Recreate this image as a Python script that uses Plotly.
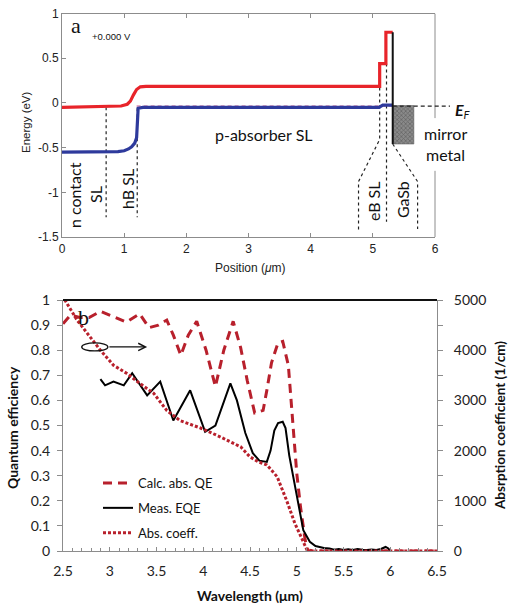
import plotly.graph_objects as go

# ---------------- Panel a: band diagram ----------------
cb_pos = [0, 0.7, 0.95, 1.05, 1.1, 1.15, 1.2, 1.26, 1.35, 5.11, 5.11, 5.21, 5.21, 5.32]
cb_E = [-0.05, -0.045, -0.035, -0.015, 0.02, 0.09, 0.15, 0.18, 0.185, 0.185, 0.44, 0.44, 0.79, 0.79]

vb_pos = [0, 0.7, 0.9, 1.0, 1.07, 1.12, 1.17, 1.2, 1.215, 1.225, 1.3, 5.1, 5.16, 5.32]
vb_E = [-0.55, -0.55, -0.545, -0.535, -0.515, -0.49, -0.45, -0.39, -0.25, -0.06, -0.05, -0.05, -0.025, -0.025]

qf_pos = [1.2, 5.32]
qf_E = [-0.035, -0.035]

edge_pos = [5.32, 5.32]
edge_E = [0.79, -0.46]

metal_pos = [5.32, 5.66, 5.66, 5.32, 5.32]
metal_E = [-0.03, -0.03, -0.46, -0.46, -0.03]

guide_pos = [
    [0.71, 0.71],
    [1.21, 1.21],
    [5.11, 5.11, 4.77, 4.77],
    [5.22, 5.22],
    [5.32, 5.72, 5.72],
]
guide_E = [
    [-0.05, -1.28],
    [-0.06, -1.28],
    [0.44, -0.41, -0.88, -1.42],
    [0.44, -1.33],
    [-0.46, -0.88, -1.41],
]

pos_ticks = [0, 1, 2, 3, 4, 5, 6]
energy_ticks = [-1.5, -1, -0.5, 0, 0.5, 1]
energy_ticktext = ["-1.5", "-1", "-0.5", "0", "0.5", "1"]

region_labels = ["n contact", "SL", "hB SL", "eB SL", "GaSb"]
region_pos = [0.21, 0.53, 1.05, 5.0, 5.48]
region_E = [-1.03, -1.02, -0.96, -1.1, -1.08]

# ---------------- Panel b: QE / absorption ----------------
calc_wl = [2.5, 2.58, 2.68, 2.78, 2.9, 3.04, 3.18, 3.32, 3.42, 3.52, 3.61, 3.68, 3.76, 3.84, 3.93,
           4.03, 4.13, 4.22, 4.32, 4.4, 4.47, 4.55, 4.64, 4.68, 4.73, 4.8, 4.85, 4.91, 4.95, 4.98,
           5.0, 5.04, 5.09, 5.12, 6.5]
calc_qe = [0.905, 0.94, 0.93, 0.93, 0.955, 0.935, 0.912, 0.945, 0.89, 0.9, 0.92, 0.86, 0.78, 0.86, 0.915,
           0.8, 0.655, 0.8, 0.915, 0.81, 0.68, 0.55, 0.56, 0.64, 0.75, 0.83, 0.835, 0.74, 0.55, 0.44,
           0.31, 0.176, 0.044, 0.0, 0.0]

meas_wl = [2.9, 2.95, 3.04, 3.15, 3.24, 3.4, 3.54, 3.68, 3.86, 4.02, 4.13, 4.29, 4.36, 4.45, 4.53,
           4.6, 4.68, 4.72, 4.76, 4.8, 4.85, 4.88, 4.92, 5.0, 5.07, 5.14, 5.2, 5.29, 5.35, 5.4,
           5.45, 5.5, 5.55, 5.6, 5.65, 5.7, 5.75, 5.8, 5.85, 5.9, 5.95, 5.98, 6.0]
meas_eqe = [0.685, 0.66, 0.675, 0.66, 0.708, 0.62, 0.675, 0.52, 0.64, 0.475, 0.5, 0.668, 0.6, 0.47, 0.39,
            0.36, 0.355, 0.4, 0.48, 0.51, 0.515, 0.49, 0.38, 0.216, 0.083, 0.037, 0.02, 0.012, 0.01, 0.005,
            0.008, 0.004, 0.007, 0.004, 0.008, 0.005, 0.004, 0.006, 0.004, 0.008, 0.016, 0.01, 0.0]

abs_wl = [2.5, 2.52, 2.65, 2.79, 2.9, 3.04, 3.18, 3.32, 3.47, 3.61, 3.75, 3.97, 4.18, 4.4, 4.5,
          4.59, 4.68, 4.79, 4.89, 4.98, 5.06, 5.11, 5.2, 6.5]
abs_coeff = [5100, 5000, 4600, 4275, 4000, 3700, 3540, 3340, 3140, 2800, 2600, 2450, 2275, 2075, 1875,
             1775, 1715, 1480, 1015, 550, 220, 20, 0, 0]

wl_ticks = [2.5, 3, 3.5, 4, 4.5, 5, 5.5, 6, 6.5]
wl_ticktext = ["2.5", "3", "3.5", "4", "4.5", "5", "5.5", "6", "6.5"]
qe_ticks = [0, 0.1, 0.2, 0.3, 0.4, 0.5, 0.6, 0.7, 0.8, 0.9, 1]
qe_ticktext = ["0", "0.1", "0.2", "0.3", "0.4", "0.5", "0.6", "0.7", "0.8", "0.9", "1"]
abs_ticks = [0, 1000, 2000, 3000, 4000, 5000]

# ---------------- layout geometry ----------------
W, H = 508, 608


def fx(p):
    return p / W


def fy(p):
    return 1 - p / H


XA = [fx(62), fx(435)]
YA = [fy(237), fy(13.5)]
XB = [fx(63), fx(437)]
YB = [fy(551), fy(300)]

RED = "#e8242a"
BLUE = "#2e3a9c"
DRED = "#b8202c"
GREY = "#8c8c8c"
FA = "Liberation Sans, Arial, sans-serif"
FL = "Lato, Open Sans, sans-serif"

fig = go.Figure()

# panel a traces
for gp, ge in zip(guide_pos, guide_E):
    fig.add_trace(go.Scatter(x=gp, y=ge, mode="lines", xaxis="x", yaxis="y", showlegend=False,
                             line=dict(color="#222222", width=1.2, dash="3px,3px"), hoverinfo="skip"))
fig.add_trace(go.Scatter(x=metal_pos, y=metal_E, mode="lines", fill="toself", xaxis="x", yaxis="y",
                         showlegend=False, line=dict(color="#555555", width=0.5),
                         fillcolor="#6a6a6a",
                         fillpattern=dict(shape="x", bgcolor="#8a8a8a", fgcolor="#3a3a3a", size=3, solidity=0.4)))
fig.add_trace(go.Scatter(x=cb_pos, y=cb_E, mode="lines", xaxis="x", yaxis="y", showlegend=False,
                         line=dict(color=RED, width=3.2)))
fig.add_trace(go.Scatter(x=qf_pos, y=qf_E, mode="lines", xaxis="x", yaxis="y", showlegend=False,
                         line=dict(color="#c0508a", width=1, dash="4px,3px")))
fig.add_trace(go.Scatter(x=vb_pos, y=vb_E, mode="lines", xaxis="x", yaxis="y", showlegend=False,
                         line=dict(color=BLUE, width=3.2)))
fig.add_trace(go.Scatter(x=edge_pos, y=edge_E, mode="lines", xaxis="x", yaxis="y", showlegend=False,
                         line=dict(color="#111111", width=2)))

# panel b traces
fig.add_trace(go.Scatter(x=calc_wl, y=calc_qe, mode="lines", xaxis="x2", yaxis="y2",
                         name="Calc. abs. QE", legendgroup="g1",
                         line=dict(color=DRED, width=3, dash="9px,6px")))
fig.add_trace(go.Scatter(x=meas_wl, y=meas_eqe, mode="lines", xaxis="x2", yaxis="y2",
                         name="Meas. EQE", legendgroup="g2",
                         line=dict(color="#000000", width=2)))
fig.add_trace(go.Scatter(x=abs_wl, y=abs_coeff, mode="lines", xaxis="x2", yaxis="y3",
                         name="Abs. coeff.", legendgroup="g3",
                         line=dict(color=DRED, width=3, dash="3px,2px")))

xa0, xa1 = XA


def xa_frac(v):
    return xa0 + v / 6.0 * (xa1 - xa0)


shapes = [
    # right border of panel a (interrupted)
    dict(type="line", xref="paper", yref="y", x0=xa1, x1=xa1, y0=1, y1=-0.17,
         line=dict(color=GREY, width=1)),
    dict(type="line", xref="paper", yref="y", x0=xa1, x1=xa1, y0=-0.76, y1=-1.5,
         line=dict(color=GREY, width=1)),
    # Fermi level
    dict(type="line", xref="paper", yref="y", x0=xa_frac(5.32), x1=fx(450), y0=-0.035, y1=-0.035,
         line=dict(color="#222222", width=1.2, dash="4px,3px")),
    # top border panel b
    dict(type="line", xref="paper", yref="paper", x0=XB[0], x1=XB[1], y0=YB[1], y1=YB[1],
         line=dict(color="#111111", width=2)),
    # ellipse marker
    dict(type="circle", xref="x2", yref="y2", x0=2.70, x1=2.98, y0=0.797, y1=0.829,
         line=dict(color="#111111", width=1.3)),
]


def ann(text, x, y, xref, yref, size, family=FL, color="#111", angle=0):
    return dict(text=text, x=x, y=y, xref=xref, yref=yref, showarrow=False, textangle=angle,
                xanchor="center", yanchor="middle", font=dict(family=family, size=size, color=color))


annotations = [
    ann("a", 0.22, 0.87, "x", "y", 22, family="Liberation Serif, serif"),
    ann("+0.000 V", 0.79, 0.74, "x", "y", 9.5, family=FA),
    ann("p-absorber SL", 3.25, -0.35, "x", "y", 16),
    ann("mirror", fx(445), fy(133), "paper", "paper", 16),
    ann("metal", fx(445), fy(154), "paper", "paper", 16),
    ann("<b><i>E</i></b><i><sub>F</sub></i>", fx(463), fy(110), "paper", "paper", 16),
    ann("Energy (eV)", fx(26), fy(122), "paper", "paper", 11.5, family=FA, color="#222", angle=-90),
    ann("Position (<i>μ</i>m)", fx(250), fy(268), "paper", "paper", 12, family=FA, color="#222"),
    # panel b
    ann("b", 2.72, 0.93, "x2", "y2", 22, family="Liberation Serif, serif"),
    dict(text="", x=3.40, y=0.813, ax=2.98, ay=0.813, xref="x2", yref="y2", axref="x2", ayref="y2",
         showarrow=True, arrowhead=5, arrowsize=1.2, arrowwidth=1.2, arrowcolor="#111"),
    ann("<b>Quantum efficiency</b>", fx(12), fy(428), "paper", "paper", 14, angle=-90),
    ann("<b>Absrption coefficient (1/cm)</b>", fx(500), fy(426), "paper", "paper", 13.5, angle=-90),
    ann("<b>Wavelength (μm)</b>", fx(250), fy(595), "paper", "paper", 14),
]
for t, px_, e in zip(region_labels, region_pos, region_E):
    annotations.append(ann(t, px_, e, "x", "y", 16, angle=-90))

fig.update_layout(
    width=W, height=H, margin=dict(l=0, r=0, t=0, b=0, autoexpand=False),
    paper_bgcolor="white", plot_bgcolor="white",
    shapes=shapes, annotations=annotations,
    xaxis=dict(domain=XA, anchor="y", range=[0, 6], tickvals=pos_ticks, ticks="inside", ticklen=4,
               tickcolor=GREY, showline=True, linecolor=GREY, mirror="ticks", showgrid=False,
               zeroline=False, tickfont=dict(family=FA, size=12, color="#222"), ticklabelstandoff=1,
               automargin=False),
    yaxis=dict(domain=YA, anchor="x", range=[-1.5, 1], tickvals=energy_ticks, ticktext=energy_ticktext,
               ticks="inside", ticklen=4, tickcolor=GREY, showline=True, linecolor=GREY, showgrid=False,
               zeroline=False, tickfont=dict(family=FA, size=12, color="#222"), automargin=False),
    yaxis4=dict(overlaying="y", anchor="x", side="right", range=[-1.5, 1], tickvals=[1, 0.5, 0, -1],
                ticks="inside", ticklen=4, tickcolor=GREY, showticklabels=False, showline=False,
                showgrid=False, zeroline=False, automargin=False),
    xaxis2=dict(domain=XB, anchor="y2", range=[2.5, 6.5], tickvals=wl_ticks, ticktext=wl_ticktext,
                ticks="inside", ticklen=4, tickcolor=GREY, showline=True, linecolor=GREY, showgrid=False,
                zeroline=False, minor=dict(dtick=0.1, tick0=2.5, ticks="inside", ticklen=3, tickcolor=GREY),
                tickfont=dict(family=FL, size=14, color="#222"), ticklabelstandoff=7, automargin=False),
    yaxis2=dict(domain=YB, anchor="x2", range=[0, 1], tickvals=qe_ticks, ticktext=qe_ticktext,
                ticks="outside", ticklen=5, tickcolor=GREY, showline=True, linecolor=GREY, showgrid=False,
                zeroline=False, tickfont=dict(family=FL, size=14, color="#222"), ticklabelstandoff=4,
                automargin=False),
    yaxis3=dict(overlaying="y2", anchor="x2", side="right", range=[0, 5000], tickvals=abs_ticks,
                ticks="outside", ticklen=5, tickcolor=GREY, showline=True, linecolor=GREY, showgrid=False,
                zeroline=False, minor=dict(dtick=500, ticks="outside", ticklen=5, tickcolor=GREY),
                tickfont=dict(family=FL, size=14, color="#222"), ticklabelstandoff=8, automargin=False),
    legend=dict(x=fx(98), y=fy(468), xanchor="left", yanchor="top", bgcolor="rgba(0,0,0,0)",
                font=dict(family=FL, size=13, color="#111"), tracegroupgap=5, itemwidth=30),
    showlegend=True,
)

# the page body would otherwise add an 8px margin around the figure
fig.write_html("out.html", config={"displayModeBar": False},
               post_script="document.body.style.margin='0px';")
